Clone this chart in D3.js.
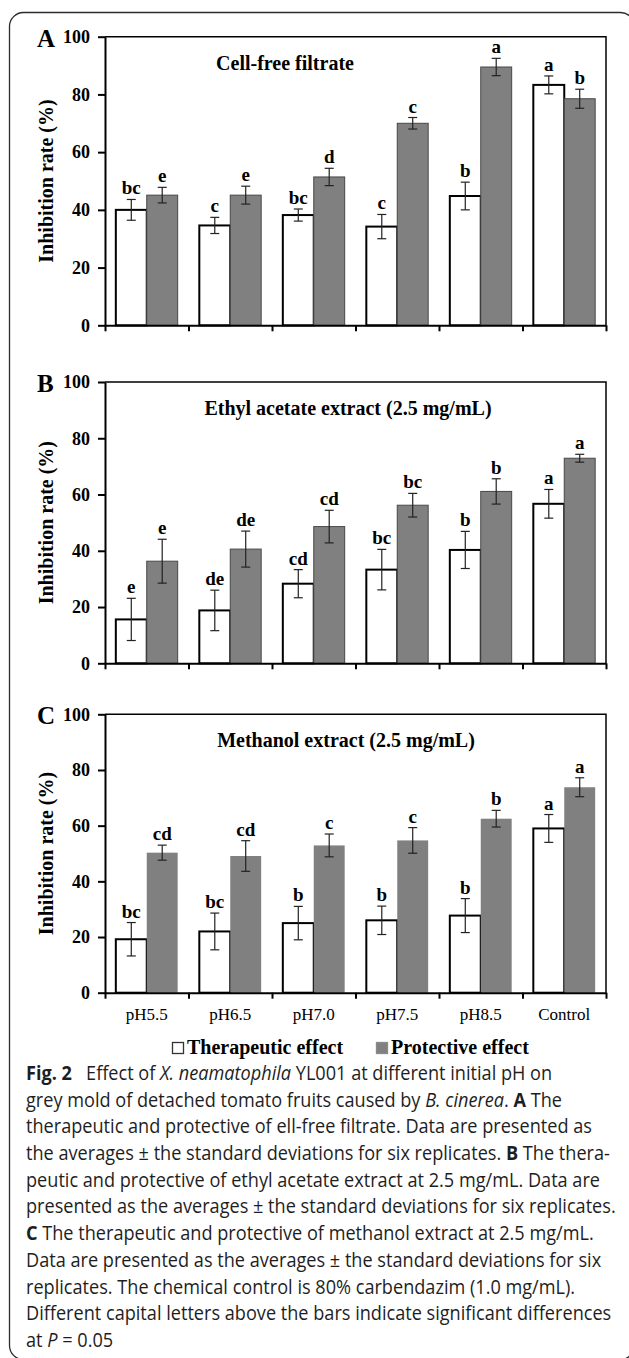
<!DOCTYPE html>
<html>
<head>
<meta charset="utf-8">
<script src="https://cdn.jsdelivr.net/npm/d3@7"></script>
<style>
  body { margin: 0; background: #fff; }
  svg { display: block; }
  .serif { font-family: "Liberation Serif", "Times New Roman", serif; }
  .cap { font-family: "Open Sans", "Noto Sans", sans-serif; }
</style>
</head>
<body>
<svg width="629" height="1358"></svg>
<script>
// categories and series
var categories = ["pH5.5", "pH6.5", "pH7.0", "pH7.5", "pH8.5", "Control"];
var seriesNames = ["Therapeutic effect", "Protective effect"];
var yTicks = [0, 20, 40, 60, 80, 100];

var panelLetters = ["A", "B", "C"];
var panelTitles = ["Cell-free filtrate", "Ethyl acetate extract (2.5 mg/mL)", "Methanol extract (2.5 mg/mL)"];

// A: cell-free filtrate
var therapeuticA = [40.0, 34.6, 38.2, 34.2, 44.8, 83.3];
var therapeuticErrA = [3.6, 2.8, 2.1, 4.2, 4.8, 3.1];
var protectiveA = [45.1, 45.1, 51.4, 70.0, 89.5, 78.5];
var protectiveErrA = [2.7, 3.1, 3.0, 2.0, 3.0, 3.3];
var lettersThA = ["bc", "c", "bc", "c", "b", "a"];
var lettersPrA = ["e", "e", "d", "c", "a", "b"];

// B: ethyl acetate extract
var therapeuticB = [15.6, 18.8, 28.3, 33.3, 40.3, 56.7];
var therapeuticErrB = [7.5, 7.2, 5.0, 7.2, 6.6, 5.1];
var protectiveB = [36.3, 40.6, 48.6, 56.2, 61.1, 72.9];
var protectiveErrB = [7.8, 6.4, 5.8, 4.2, 4.5, 1.4];
var lettersThB = ["e", "de", "cd", "bc", "b", "a"];
var lettersPrB = ["e", "de", "cd", "bc", "b", "a"];

// C: methanol extract
var therapeuticC = [19.2, 22.0, 25.0, 26.0, 27.7, 59.0];
var therapeuticErrC = [6.0, 6.6, 6.0, 5.1, 6.1, 5.0];
var protectiveC = [50.3, 49.1, 52.9, 54.7, 62.5, 73.8];
var protectiveErrC = [2.7, 5.5, 4.1, 4.6, 3.0, 3.4];
var lettersThC = ["bc", "bc", "b", "b", "b", "a"];
var lettersPrC = ["cd", "cd", "c", "c", "b", "a"];

// caption text, segments: [text, style]
var captionLines = [
    [["Fig. 2", "b"], ["\u00a0\u00a0\u00a0Effect of ", ""], ["X. neamatophila", "i"], [" YL001 at different initial pH on", ""]],
    [["grey mold of detached tomato fruits caused by ", ""], ["B. cinerea", "i"], [". ", ""], ["A", "b"], [" The", ""]],
    [["therapeutic and protective of ell-free filtrate. Data are presented as", ""]],
    [["the averages \u00b1 the standard deviations for six replicates. ", ""], ["B", "b"], [" The thera-", ""]],
    [["peutic and protective of ethyl acetate extract at 2.5 mg/mL. Data are", ""]],
    [["presented as the averages \u00b1 the standard deviations for six replicates.", ""]],
    [["C", "b"], [" The therapeutic and protective of methanol extract at 2.5 mg/mL.", ""]],
    [["Data are presented as the averages \u00b1 the standard deviations for six", ""]],
    [["replicates. The chemical control is 80% carbendazim (1.0 mg/mL).", ""]],
    [["Different capital letters above the bars indicate significant differences", ""]],
    [["at ", ""], ["P", "i"], [" = 0.05", ""]]
];

var panelData = [
    [therapeuticA, therapeuticErrA, protectiveA, protectiveErrA, lettersThA, lettersPrA],
    [therapeuticB, therapeuticErrB, protectiveB, protectiveErrB, lettersThB, lettersPrB],
    [therapeuticC, therapeuticErrC, protectiveC, protectiveErrC, lettersThC, lettersPrC]
];

// layout of each panel
var layout = [
    { top: 36.7, bottom: 325.3, titleX: 285, grayStroke: "#474747", xLabels: false },
    { top: 382, bottom: 663.3, titleX: 348, grayStroke: "#474747", xLabels: false },
    { top: 714.3, bottom: 992.7, titleX: 346, grayStroke: "none", xLabels: true }
];
var left = 105, right = 606;
var fills = ["#ffffff", "#808080"];

var svg = d3.select("svg");

// card outline
svg.append("rect")
    .attr("x", 9.5).attr("y", 12.5)
    .attr("width", 625).attr("height", 1347)
    .attr("rx", 14)
    .attr("fill", "none")
    .attr("stroke", "#2b2b2b")
    .attr("stroke-width", 1.3);

var x0 = d3.scaleBand().domain(categories).range([left, right]).paddingInner(0).paddingOuter(0);
var x1 = d3.scaleBand().domain(seriesNames).range([0, x0.bandwidth()]).paddingInner(0).paddingOuter(0.35);

layout.forEach(function (L, p) {
    var d = panelData[p];
    var y = d3.scaleLinear().domain([0, 100]).range([L.bottom, L.top]);
    var g = svg.append("g").attr("class", "serif");

    var rows = categories.map(function (c, i) {
        return {
            cat: c,
            vals: [
                { s: seriesNames[0], v: d[0][i], e: d[1][i], lab: d[4][i], k: 0 },
                { s: seriesNames[1], v: d[2][i], e: d[3][i], lab: d[5][i], k: 1 }
            ]
        };
    });

    // bars
    var grp = g.selectAll("g.grp")
        .data(rows)
        .enter().append("g")
        .attr("class", "grp")
        .attr("transform", function (r) { return "translate(" + x0(r.cat) + ",0)"; });

    grp.selectAll("rect")
        .data(function (r) { return r.vals; })
        .enter().append("rect")
        .attr("x", function (v) { return x1(v.s); })
        .attr("width", x1.bandwidth())
        .attr("y", function (v) { return y(v.v); })
        .attr("height", function (v) { return y(0) - y(v.v); })
        .attr("fill", function (v) { return fills[v.k]; })
        .attr("stroke", function (v) { return v.k == 0 ? "#000" : L.grayStroke; })
        .attr("stroke-width", function (v) { return v.k == 0 ? 2 : 1; });

    // error bars
    var eb = grp.selectAll("g.err")
        .data(function (r) { return r.vals; })
        .enter().append("g")
        .attr("class", "err")
        .attr("stroke", "#222")
        .attr("stroke-width", 1.2);
    eb.append("line")
        .attr("x1", function (v) { return x1(v.s) + x1.bandwidth() / 2; })
        .attr("x2", function (v) { return x1(v.s) + x1.bandwidth() / 2; })
        .attr("y1", function (v) { return y(v.v + v.e); })
        .attr("y2", function (v) { return y(v.v - v.e); });
    [1, -1].forEach(function (sgn) {
        eb.append("line")
            .attr("x1", function (v) { return x1(v.s) + x1.bandwidth() / 2 - 4.5; })
            .attr("x2", function (v) { return x1(v.s) + x1.bandwidth() / 2 + 4.5; })
            .attr("y1", function (v) { return y(v.v + sgn * v.e); })
            .attr("y2", function (v) { return y(v.v + sgn * v.e); });
    });

    // significance letters
    grp.selectAll("text.sig")
        .data(function (r) { return r.vals; })
        .enter().append("text")
        .attr("class", "sig")
        .attr("x", function (v) { return x1(v.s) + x1.bandwidth() / 2; })
        .attr("y", function (v) { return y(v.v + v.e) - 5; })
        .attr("text-anchor", "middle")
        .attr("font-weight", "bold")
        .attr("font-size", 19)
        .text(function (v) { return v.lab; });

    // frame (top and right)
    g.append("path")
        .attr("d", "M" + left + "," + L.top + "H" + right + "V" + L.bottom)
        .attr("fill", "none")
        .attr("stroke", "#000")
        .attr("stroke-width", 1.5);

    // y axis
    var yAxis = g.append("g")
        .attr("transform", "translate(" + left + ",0)")
        .call(d3.axisLeft(y).tickValues(yTicks).tickSize(7).tickSizeOuter(0).tickPadding(8));
    yAxis.selectAll("path, line").attr("stroke", "#000").attr("stroke-width", 2);
    yAxis.selectAll("text")
        .attr("font-family", "Liberation Serif, Times New Roman, serif")
        .attr("font-weight", "bold")
        .attr("font-size", 18)
        .attr("fill", "#000");

    // x axis with ticks on category boundaries
    var xb = d3.scaleLinear().domain([0, categories.length]).range([left, right]);
    var xAxis = g.append("g")
        .attr("transform", "translate(0," + L.bottom + ")")
        .call(d3.axisBottom(xb).tickValues(d3.range(categories.length + 1)).tickSize(6).tickSizeOuter(0).tickFormat(""));
    xAxis.selectAll("path, line").attr("stroke", "#000").attr("stroke-width", 2);

    if (L.xLabels) {
        g.selectAll("text.xl")
            .data(categories)
            .enter().append("text")
            .attr("class", "xl")
            .attr("x", function (c) { return x0(c) + x0.bandwidth() / 2; })
            .attr("y", L.bottom + 27)
            .attr("text-anchor", "middle")
            .attr("font-size", 17)
            .text(function (c) { return c; });
    }

    // panel letter, title, y label
    g.append("text")
        .attr("x", 37).attr("y", L.top + 10)
        .attr("font-weight", "bold").attr("font-size", 25)
        .text(panelLetters[p]);
    g.append("text")
        .attr("x", L.titleX).attr("y", L.top + 33)
        .attr("text-anchor", "middle")
        .attr("font-weight", "bold").attr("font-size", 20)
        .text(panelTitles[p]);
    g.append("text")
        .attr("transform", "translate(53," + (L.top + L.bottom) / 2 + ") rotate(-90)")
        .attr("text-anchor", "middle")
        .attr("font-weight", "bold").attr("font-size", 20)
        .text("Inhibition rate (%)");
});

// legend
var legend = svg.append("g").attr("class", "serif");
var legX = [172, 376];
seriesNames.forEach(function (name, i) {
    var row = legend.append("g").attr("transform", "translate(" + legX[i] + ",1042)");
    row.append("rect")
        .attr("x", 0.5).attr("y", 0.5)
        .attr("width", 11).attr("height", 11)
        .attr("fill", fills[i])
        .attr("stroke", i == 0 ? "#333" : "#8a8a8a")
        .attr("stroke-width", 1.3);
    row.append("text")
        .attr("x", 15).attr("y", 11.5)
        .attr("font-weight", "bold").attr("font-size", 20)
        .text(name);
});

// caption
var cap = svg.append("g").attr("class", "cap").attr("fill", "#1e1e1e").attr("font-size", 20);
var capLines = cap.selectAll("text")
    .data(captionLines)
    .enter().append("text")
    .attr("x", 0)
    .attr("y", function (d, i) { return 1080 + i * 26.7; });
capLines.selectAll("tspan")
    .data(function (d) { return d; })
    .enter().append("tspan")
    .attr("font-weight", function (s) { return s[1] == "b" ? "bold" : null; })
    .attr("font-style", function (s) { return s[1] == "i" ? "italic" : null; })
    .text(function (s) { return s[0]; });

var widest = capLines.nodes()[5].getComputedTextLength();
cap.attr("transform", "translate(26,0) scale(" + (590 / widest) + ",1)");
</script>
</body>
</html>
